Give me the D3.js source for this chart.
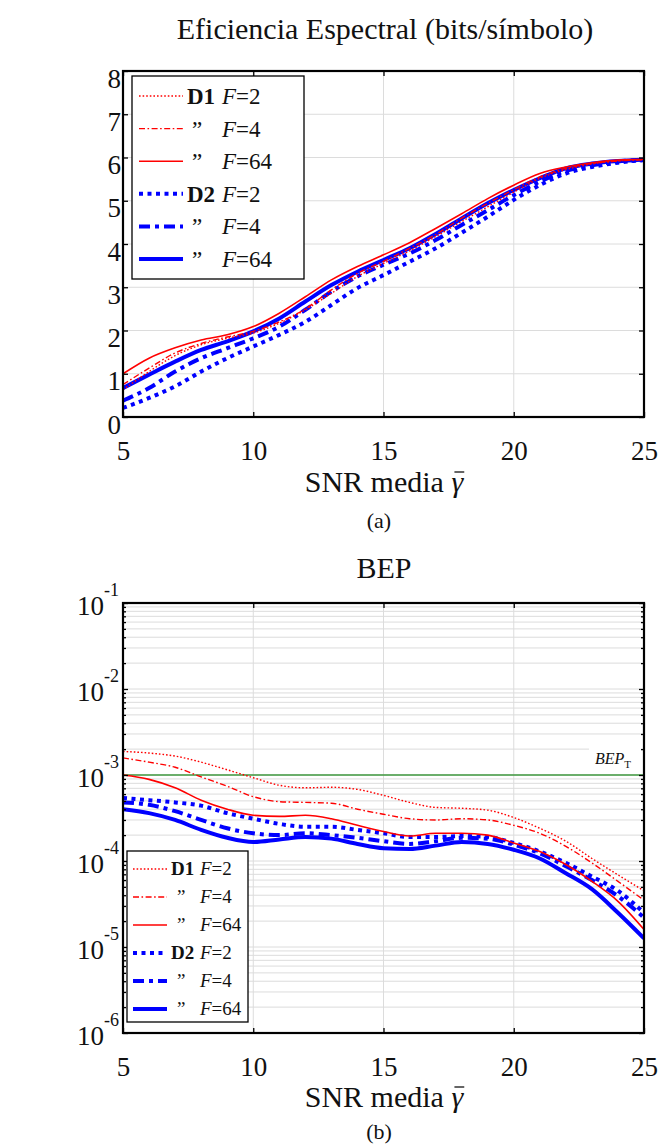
<!DOCTYPE html>
<html><head><meta charset="utf-8">
<script src="https://cdn.jsdelivr.net/npm/d3@7"></script>
<style>
body{margin:0;background:#fff}
svg{display:block}
text{font-family:"Liberation Serif","DejaVu Serif","Noto Serif",serif;fill:#111}
</style>
</head><body>
<svg id="c" width="672" height="1144"></svg>
<script>
// ---------------- DATA ----------------
const snr = [5,6,7,8,9,10,11,12,13,14,15,16,17,18,19,20,21,22,23,24,25];
const snrTicks = [5,10,15,20,25];
const seTicks = [0,1,2,3,4,5,6,7,8];
const bepTicks = [1e-1,1e-2,1e-3,1e-4,1e-5,1e-6];
const bepTickExp = ["-1","-2","-3","-4","-5","-6"];
const bepTarget = 1e-3;

const legendNames = ["D1","\u201D","\u201D","D2","\u201D","\u201D"];
const legendF = ["2","4","64","2","4","64"];

// Spectral efficiency (bits/symbol)
const se_D1_F2  = [0.63,1.05,1.42,1.67,1.82,1.94,2.17,2.48,2.86,3.25,3.55,3.84,4.17,4.52,4.86,5.20,5.52,5.72,5.85,5.92,5.95];
const se_D1_F4  = [0.75,1.13,1.48,1.70,1.85,1.98,2.20,2.50,2.94,3.32,3.60,3.90,4.22,4.60,4.94,5.26,5.55,5.75,5.86,5.92,5.95];
const se_D1_F64 = [1.00,1.36,1.60,1.78,1.90,2.09,2.40,2.78,3.17,3.48,3.75,4.03,4.36,4.70,5.05,5.36,5.63,5.78,5.88,5.94,5.96];
const se_D2_F2  = [0.21,0.44,0.71,1.05,1.36,1.63,1.90,2.20,2.59,2.98,3.28,3.59,3.90,4.26,4.63,5.02,5.36,5.63,5.78,5.88,5.94];
const se_D2_F4  = [0.38,0.67,1.05,1.36,1.59,1.82,2.09,2.48,2.90,3.25,3.52,3.78,4.09,4.44,4.78,5.13,5.44,5.69,5.82,5.91,5.94];
const se_D2_F64 = [0.67,0.98,1.28,1.55,1.75,1.98,2.28,2.67,3.05,3.36,3.63,3.90,4.23,4.59,4.94,5.25,5.52,5.75,5.86,5.92,5.95];

// Bit error probability
const bep_D1_F2  = [1.88e-3,1.80e-3,1.66e-3,1.41e-3,1.15e-3,9.3e-4,7.6e-4,7.1e-4,7.2e-4,6.8e-4,5.8e-4,4.8e-4,4.2e-4,4.1e-4,3.9e-4,3.2e-4,2.4e-4,1.7e-4,1.07e-4,6.9e-5,4.5e-5];
const bep_D1_F4  = [1.58e-3,1.41e-3,1.23e-3,9.5e-4,7.4e-4,5.6e-4,4.9e-4,4.8e-4,4.7e-4,4.0e-4,3.5e-4,3.1e-4,3.0e-4,3.1e-4,3.0e-4,2.6e-4,2.1e-4,1.48e-4,9.5e-5,5.8e-5,3.5e-5];
const bep_D1_F64 = [1.0e-3,8.9e-4,7.1e-4,5.1e-4,4.0e-4,3.4e-4,3.3e-4,3.4e-4,3.1e-4,2.6e-4,2.2e-4,1.95e-4,2.1e-4,2.1e-4,2.0e-4,1.62e-4,1.29e-4,9.1e-5,5.8e-5,3.4e-5,1.6e-5];
const bep_D2_F2  = [5.4e-4,5.1e-4,4.8e-4,4.4e-4,3.6e-4,3.1e-4,2.7e-4,2.5e-4,2.5e-4,2.3e-4,2.1e-4,1.9e-4,1.9e-4,1.95e-4,1.9e-4,1.62e-4,1.29e-4,9.5e-5,6.6e-5,4.5e-5,2.5e-5];
const bep_D2_F4  = [4.8e-4,4.5e-4,3.8e-4,3.0e-4,2.4e-4,2.1e-4,2.0e-4,2.1e-4,2.0e-4,1.86e-4,1.7e-4,1.58e-4,1.7e-4,1.86e-4,1.82e-4,1.55e-4,1.23e-4,8.7e-5,6.0e-5,3.9e-5,2.2e-5];
const bep_D2_F64 = [4.0e-4,3.6e-4,3.0e-4,2.3e-4,1.86e-4,1.66e-4,1.78e-4,1.9e-4,1.82e-4,1.58e-4,1.41e-4,1.38e-4,1.51e-4,1.66e-4,1.58e-4,1.35e-4,1.07e-4,7.2e-5,4.7e-5,2.5e-5,1.26e-5];

// ---------------- STYLES ----------------
const RED = "#ff0000", BLUE = "#0000ff";
const FONT = '"Liberation Serif","DejaVu Serif","Noto Serif",serif';
const styles = [
  {color:RED,  w:1.4, dash:"1.6,2"},
  {color:RED,  w:1.4, dash:"6,2.5,1.6,2.5"},
  {color:RED,  w:1.6, dash:null},
  {color:BLUE, w:4,   dash:"4,4.5"},
  {color:BLUE, w:4,   dash:"11,5,4,5"},
  {color:BLUE, w:4,   dash:null}
];

const svg = d3.select("#c");
const L = 123, R = 644;
const GRID = "#dcdcdc";

function xLabel(yBase) {
  const xl = svg.append("text").attr("y",yBase).attr("font-size",30).attr("font-family",FONT);
  const a = xl.append("tspan").text("SNR media ");
  const b = xl.append("tspan").attr("font-style","italic").text("\u03B3");
  const w = xl.node().getComputedTextLength();
  const x0 = 384 - w/2;
  xl.attr("x", x0);
  const n = xl.node();
  const nch = n.getNumberOfChars();
  const st = n.getStartPositionOfChar(nch-1).x, en = n.getEndPositionOfChar(nch-1).x;
  svg.append("line").attr("x1", st+3).attr("x2", en+1).attr("y1", yBase-20).attr("y2", yBase-20)
    .attr("stroke","#111").attr("stroke-width",1.3);
}

// ================= TOP PANEL =================
(function(){
  const top = 71, bot = 417;
  const x = d3.scaleLinear().domain([5,25]).range([L,R]);
  const y = d3.scaleLinear().domain([0,8]).range([bot,top]);
  const g = svg.append("g");

  g.append("g").selectAll("line").data(snrTicks.slice(1,-1)).join("line")
    .attr("x1", d=>x(d)).attr("x2", d=>x(d)).attr("y1", top).attr("y2", bot)
    .attr("stroke", GRID);
  g.append("g").selectAll("line").data(seTicks.slice(1,-1)).join("line")
    .attr("x1", L).attr("x2", R).attr("y1", d=>y(d)).attr("y2", d=>y(d))
    .attr("stroke", GRID);

  const series = [se_D1_F2, se_D1_F4, se_D1_F64, se_D2_F2, se_D2_F4, se_D2_F64];
  const line = d3.line().x((d,i)=>x(snr[i])).y(d=>y(d)).curve(d3.curveMonotoneX);
  g.append("clipPath").attr("id","clipA").append("rect")
    .attr("x",L).attr("y",top).attr("width",R-L).attr("height",bot-top);
  [3,4,5,0,1,2].forEach(k=>{
    const s = styles[k];
    g.append("path").datum(series[k]).attr("d", line)
      .attr("fill","none").attr("stroke", s.color).attr("stroke-width", s.w)
      .attr("stroke-dasharray", s.dash).attr("clip-path","url(#clipA)");
  });

  const ax = g.append("g").attr("transform",`translate(0,${bot})`)
    .call(d3.axisBottom(x).tickValues(snrTicks).tickSize(-5).tickPadding(24));
  const axT = g.append("g").attr("transform",`translate(0,${top})`)
    .call(d3.axisTop(x).tickValues(snrTicks).tickSize(-5).tickFormat(""));
  const ay = g.append("g").attr("transform",`translate(${L},0)`)
    .call(d3.axisLeft(y).tickValues(seTicks).tickSize(-5).tickPadding(2));
  const ayR = g.append("g").attr("transform",`translate(${R},0)`)
    .call(d3.axisRight(y).tickValues(seTicks).tickSize(-5).tickFormat(""));
  [ax,axT,ay,ayR].forEach(a=>{a.attr("font-family",FONT); a.select(".domain").remove(); a.selectAll("line").attr("stroke","#000").attr("stroke-width",1.3);});
  ax.selectAll("text").attr("font-size",27).attr("fill","#111");
  ay.selectAll("text").attr("font-size",27).attr("fill","#111").attr("dy",16);

  g.append("rect").attr("x",L).attr("y",top).attr("width",R-L).attr("height",bot-top)
    .attr("fill","none").attr("stroke","#000").attr("stroke-width",2.2);

  const lg = g.append("g");
  lg.append("rect").attr("x",132).attr("y",76).attr("width",172).attr("height",203)
    .attr("fill","#fff").attr("stroke","#000").attr("stroke-width",1.3);
  const rowY = d3.scalePoint().domain(d3.range(6)).range([96,259]);
  legendNames.forEach((nm,i)=>{
    const s = styles[i], yy = rowY(i);
    lg.append("line").attr("x1",139).attr("x2",183).attr("y1",yy).attr("y2",yy)
      .attr("stroke",s.color).attr("stroke-width",s.w).attr("stroke-dasharray",s.dash);
    lg.append("text").attr("x", nm==="\u201D"?192:187).attr("y",yy+8).attr("font-size",23)
      .attr("font-weight", nm==="\u201D"?"normal":"bold").text(nm);
    const t = lg.append("text").attr("x",222).attr("y",yy+8).attr("font-size",23);
    t.append("tspan").attr("font-style","italic").text("F");
    t.append("tspan").text("=" + legendF[i]);
  });

  svg.append("text").attr("x",385).attr("y",39).attr("text-anchor","middle")
    .attr("font-size",30).text("Eficiencia Espectral (bits/s\u00EDmbolo)");
  xLabel(492);
  svg.append("text").attr("x",379).attr("y",528).attr("text-anchor","middle")
    .attr("font-size",22).text("(a)");
})();

// ================= BOTTOM PANEL =================
(function(){
  const top = 603, bot = 1033;
  const x = d3.scaleLinear().domain([5,25]).range([L,R]);
  const y = d3.scaleLog().domain([1e-6,1e-1]).range([bot,top]);
  const g = svg.append("g");
  const minors = [];
  for (let e=-6;e<-1;e++) for (let m=2;m<=9;m++) minors.push(m*Math.pow(10,e));

  g.append("g").selectAll("line").data(snrTicks.slice(1,-1)).join("line")
    .attr("x1", d=>x(d)).attr("x2", d=>x(d)).attr("y1", top).attr("y2", bot)
    .attr("stroke", GRID);
  g.append("g").selectAll("line").data(minors.concat(bepTicks.slice(1,-1))).join("line")
    .attr("x1", L).attr("x2", R).attr("y1", d=>y(d)).attr("y2", d=>y(d))
    .attr("stroke", GRID);

  g.append("line").attr("x1",L).attr("x2",R).attr("y1",y(bepTarget)).attr("y2",y(bepTarget))
    .attr("stroke","#3f993f").attr("stroke-width",1.4);
  g.append("rect").attr("x",589).attr("y",y(bepTarget)-32).attr("width",52).attr("height",26).attr("fill","#fff");
  const bt = g.append("text").attr("x",595).attr("y",y(bepTarget)-11).attr("font-size",16).attr("fill","#333");
  bt.append("tspan").attr("font-style","italic").text("BEP");
  bt.append("tspan").attr("font-size",11).attr("dy",4).text("T");

  const series = [bep_D1_F2, bep_D1_F4, bep_D1_F64, bep_D2_F2, bep_D2_F4, bep_D2_F64];
  const line = d3.line().x((d,i)=>x(snr[i])).y(d=>y(d)).curve(d3.curveMonotoneX);
  g.append("clipPath").attr("id","clipB").append("rect")
    .attr("x",L).attr("y",top).attr("width",R-L).attr("height",bot-top);
  [3,4,5,0,1,2].forEach(k=>{
    const s = styles[k];
    g.append("path").datum(series[k]).attr("d", line)
      .attr("fill","none").attr("stroke", s.color).attr("stroke-width", s.w)
      .attr("stroke-dasharray", s.dash).attr("clip-path","url(#clipB)");
  });

  const ax = g.append("g").attr("transform",`translate(0,${bot})`)
    .call(d3.axisBottom(x).tickValues(snrTicks).tickSize(-5).tickPadding(24));
  const axT = g.append("g").attr("transform",`translate(0,${top})`)
    .call(d3.axisTop(x).tickValues(snrTicks).tickSize(-5).tickFormat(""));
  const ay = g.append("g").attr("transform",`translate(${L},0)`)
    .call(d3.axisLeft(y).tickValues(bepTicks).tickSize(-5).tickPadding(4));
  const ayR = g.append("g").attr("transform",`translate(${R},0)`)
    .call(d3.axisRight(y).tickValues(bepTicks).tickSize(-5).tickFormat(""));
  const ayM = g.append("g").attr("transform",`translate(${L},0)`)
    .call(d3.axisLeft(y).tickValues(minors).tickSize(-3).tickFormat(""));
  const ayMR = g.append("g").attr("transform",`translate(${R},0)`)
    .call(d3.axisRight(y).tickValues(minors).tickSize(-3).tickFormat(""));
  [ax,axT,ay,ayR,ayM,ayMR].forEach(a=>{a.attr("font-family",FONT); a.select(".domain").remove(); a.selectAll("line").attr("stroke","#000").attr("stroke-width",1.3);});
  ax.selectAll("text").attr("font-size",27).attr("fill","#111");
  ay.selectAll("text").each(function(d,i){
    const t = d3.select(this).text(null).attr("font-size",27).attr("fill","#111")
      .attr("dy",null).attr("y",11);
    t.append("tspan").text("10");
    t.append("tspan").attr("font-size",18).attr("dy",-19).text(bepTickExp[i]);
  });

  g.append("rect").attr("x",L).attr("y",top).attr("width",R-L).attr("height",bot-top)
    .attr("fill","none").attr("stroke","#000").attr("stroke-width",2.2);

  const lg = g.append("g");
  lg.append("rect").attr("x",127).attr("y",851).attr("width",121).attr("height",171)
    .attr("fill","#fff").attr("stroke","#000").attr("stroke-width",1.3);
  const rowY = d3.scalePoint().domain(d3.range(6)).range([869,1009]);
  legendNames.forEach((nm,i)=>{
    const s = styles[i], yy = rowY(i);
    lg.append("line").attr("x1",133).attr("x2",167).attr("y1",yy).attr("y2",yy)
      .attr("stroke",s.color).attr("stroke-width",s.w).attr("stroke-dasharray",s.dash);
    lg.append("text").attr("x", nm==="\u201D"?177:171).attr("y",yy+6).attr("font-size",19)
      .attr("font-weight", nm==="\u201D"?"normal":"bold").text(nm);
    const t = lg.append("text").attr("x",200).attr("y",yy+6).attr("font-size",19).attr("fill","#333");
    t.append("tspan").attr("font-style","italic").text("F");
    t.append("tspan").text("=" + legendF[i]);
  });

  svg.append("text").attr("x",384).attr("y",578).attr("text-anchor","middle")
    .attr("font-size",30).text("BEP");
  xLabel(1107);
  svg.append("text").attr("x",379).attr("y",1139).attr("text-anchor","middle")
    .attr("font-size",22).text("(b)");
})();
</script>
</body></html>
